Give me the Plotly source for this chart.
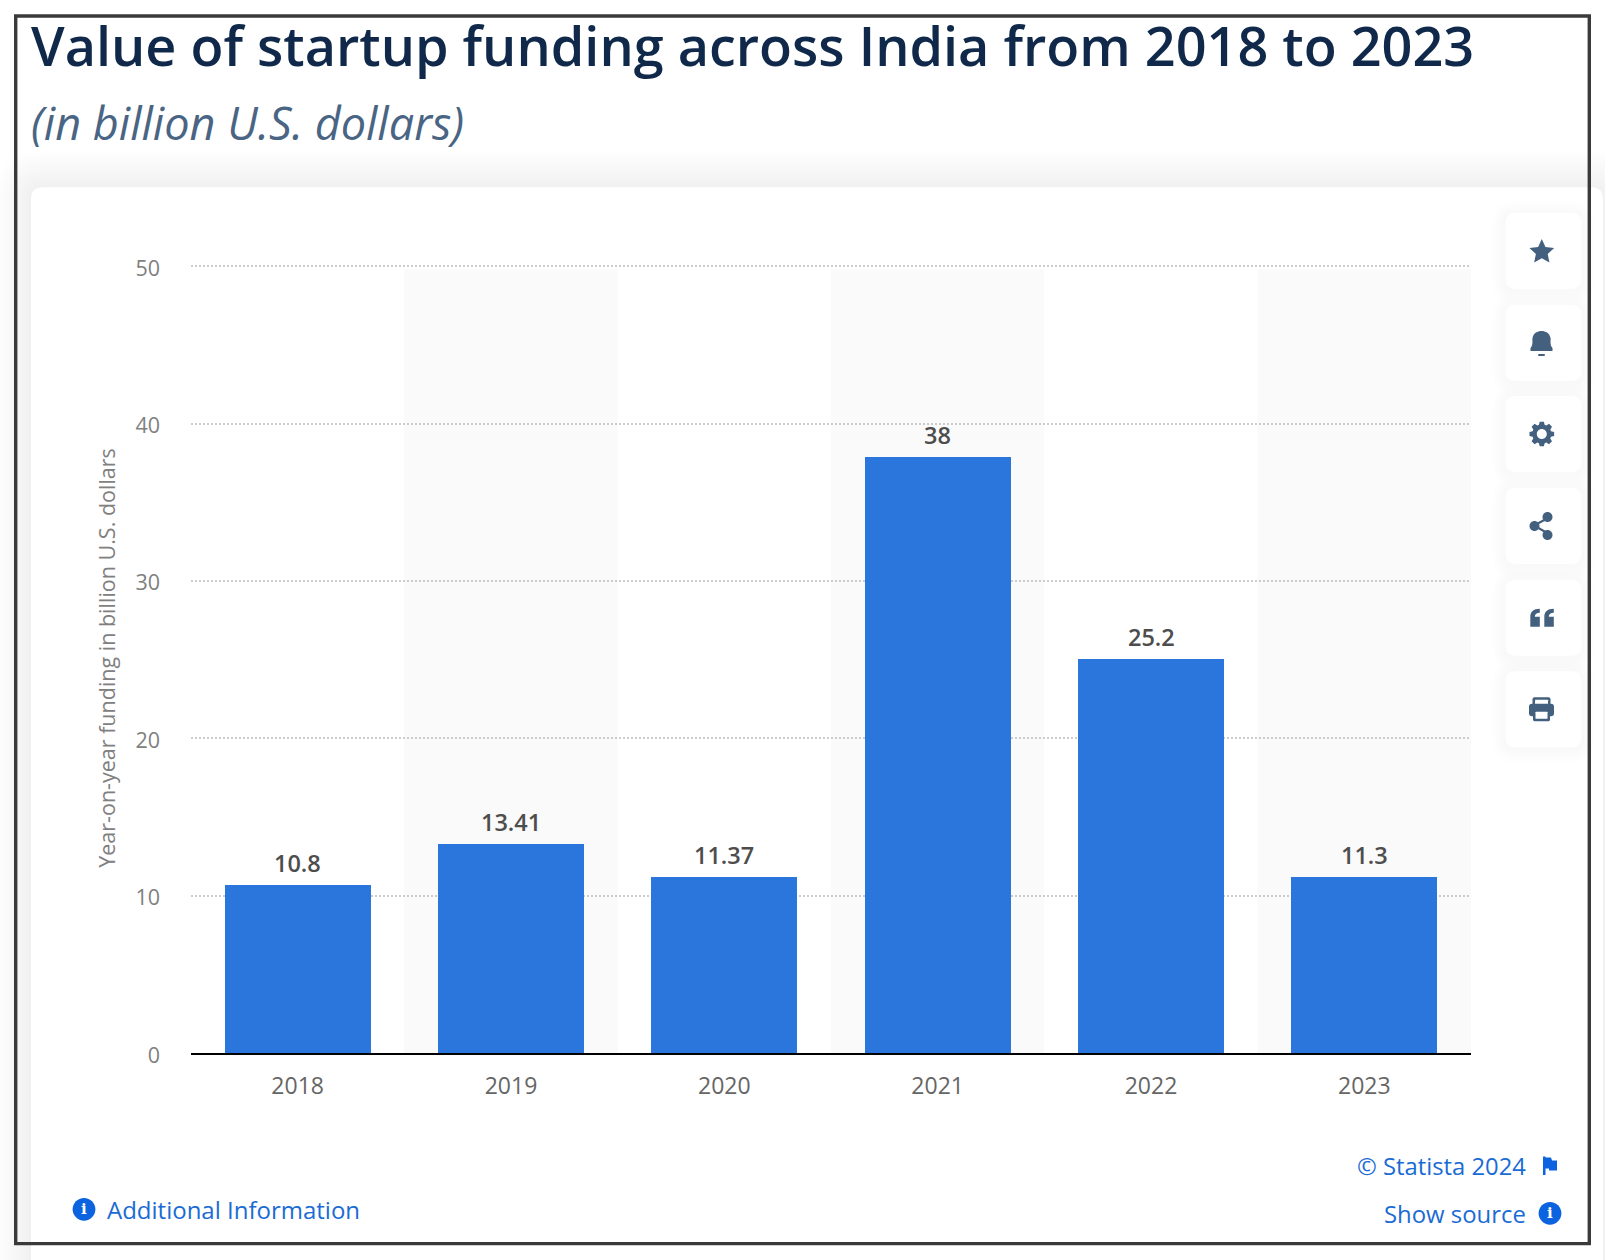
import math
import plotly.graph_objects as go

# ---- data ----
years = ["2018", "2019", "2020", "2021", "2022", "2023"]
bar_heights = [10.7, 13.28, 11.2, 37.9, 25.05, 11.2]
value_labels = ["10.8", "13.41", "11.37", "38", "25.2", "11.3"]
y_ticks = [0, 10, 20, 30, 40, 50]
shaded_years = ["2019", "2021", "2023"]

TITLE = "Value of startup funding across India from 2018 to 2023"
SUBTITLE = "(in billion U.S. dollars)"
Y_TITLE = "Year-on-year funding in billion U.S. dollars"

W, H = 1605, 1260
L, R, T, B = 191, 1471, 262.85, 1053.5
FONT = "Open Sans"
BLUE = "#2b76dd"
LINK = "#1a6bd4"
ICON = "#43607f"
SOLID = "#0b63e0"


def fx(x):
    return (x - L) / (R - L)


def fy(y):
    return (B - y) / (B - T)


def pt(x, y):
    return f"{fx(x):.5f},{fy(y):.5f}"


def poly(points):
    return "M" + " L".join(pt(x, y) for x, y in points) + " Z"


def circle(cx, cy, r):
    k = 0.5523 * r
    return (f"M{pt(cx + r, cy)} C{pt(cx + r, cy + k)} {pt(cx + k, cy + r)} {pt(cx, cy + r)} "
            f"C{pt(cx - k, cy + r)} {pt(cx - r, cy + k)} {pt(cx - r, cy)} "
            f"C{pt(cx - r, cy - k)} {pt(cx - k, cy - r)} {pt(cx, cy - r)} "
            f"C{pt(cx + k, cy - r)} {pt(cx + r, cy - k)} {pt(cx + r, cy)} Z")


def rrect(x0, y0, x1, y1, r):
    return (f"M{pt(x0 + r, y0)} L{pt(x1 - r, y0)} Q{pt(x1, y0)} {pt(x1, y0 + r)} "
            f"L{pt(x1, y1 - r)} Q{pt(x1, y1)} {pt(x1 - r, y1)} "
            f"L{pt(x0 + r, y1)} Q{pt(x0, y1)} {pt(x0, y1 - r)} "
            f"L{pt(x0, y0 + r)} Q{pt(x0, y0)} {pt(x0 + r, y0)} Z")


shapes = []


def add(path, fill, line=None, lw=0, layer="below"):
    shapes.append(dict(type="path", xref="paper", yref="paper", path=path, fillcolor=fill,
                       line=dict(color=line or "rgba(0,0,0,0)", width=lw), layer=layer))


# page-level card with soft shadow
for i in range(14, 0, -1):
    e = i * 2.6
    add(rrect(31 - e, 187 - e, 1603 + e, 1340 + e, 12 + e), "rgba(70,85,120,0.0034)")
add(rrect(31, 187, 1603, 1340, 12), "#ffffff")

# alternating bands
for yr in shaded_years:
    i = years.index(yr)
    shapes.append(dict(type="rect", xref="x", yref="y", x0=i - 0.5, x1=i + 0.5, y0=0, y1=49.8,
                       fillcolor="#fafafa", line=dict(width=0), layer="below"))

# side buttons
BTN_Y = [250.8, 343, 434, 526, 618, 709.5]
CX = 1543.5
for cy in BTN_Y:
    for i in range(6, 0, -1):
        e = i * 2.2
        add(rrect(CX - 38 - e, cy - 38 - e + 2, CX + 38 + e, cy + 38 + e + 2, 10 + e), "rgba(70,85,120,0.007)")
    add(rrect(CX - 38, cy - 38, CX + 38, cy + 38, 10), "#ffffff")

# star
cx, cy = 1541.8, BTN_Y[0]
star = []
for k in range(10):
    rad = 13 if k % 2 == 0 else 6.2
    a = -math.pi / 2 + k * math.pi / 5
    star.append((cx + rad * math.cos(a), cy + 1 + rad * math.sin(a)))
add(poly(star), ICON)

# bell
cx, cy = 1541.5, BTN_Y[1]
add(f"M{pt(cx - 11, cy + 5)} C{pt(cx - 8, cy + 2)} {pt(cx - 9.5, cy - 3)} {pt(cx - 9, cy - 5)} "
    f"C{pt(cx - 8, cy - 10)} {pt(cx - 4, cy - 12)} {pt(cx, cy - 12)} "
    f"C{pt(cx + 4, cy - 12)} {pt(cx + 8, cy - 10)} {pt(cx + 9, cy - 5)} "
    f"C{pt(cx + 9.5, cy - 3)} {pt(cx + 8, cy + 2)} {pt(cx + 11, cy + 5)} "
    f"L{pt(cx + 11, cy + 8)} L{pt(cx - 11, cy + 8)} Z", ICON)
add(rrect(cx - 3.5, cy + 11, cx + 3.5, cy + 13, 1), ICON)

# gear
cx, cy = 1541.8, BTN_Y[2]
gear = []
for k in range(8):
    a = k * math.pi / 4 - math.pi / 2
    for da, rad in ((-0.30, 9.6), (-0.17, 12.5), (0.17, 12.5), (0.30, 9.6)):
        gear.append((cx + rad * math.cos(a + da), cy + rad * math.sin(a + da)))
add(poly(gear) + " " + circle(cx, cy, 5), ICON)

# share
cx, cy = 1541.5, BTN_Y[3]
add(poly([(cx - 8, cy - 1.5), (cx + 7, cy - 9.5), (cx + 8, cy - 7.5), (cx - 7, cy + 0.5)]), ICON)
add(poly([(cx - 8, cy + 0.5), (cx + 7, cy + 9), (cx + 8, cy + 7), (cx - 7, cy - 1.5)]), ICON)
add(circle(cx - 7, cy, 5), ICON)
add(circle(cx + 6, cy - 9, 5), ICON)
add(circle(cx + 6, cy + 9, 5), ICON)

# quote marks
cx, cy = 1541.8, BTN_Y[4]
for dx in (-11.5, 2.5):
    x = cx + dx
    add(f"M{pt(x, cy + 9)} L{pt(x, cy - 1)} C{pt(x, cy - 6)} {pt(x + 3, cy - 9)} {pt(x + 9.5, cy - 9)} "
        f"L{pt(x + 9.5, cy - 5)} C{pt(x + 6.5, cy - 5)} {pt(x + 4.5, cy - 3.5)} {pt(x + 4.5, cy - 1)} "
        f"L{pt(x + 9.5, cy - 1)} L{pt(x + 9.5, cy + 9)} Z", ICON)

# printer
cx, cy = 1541.5, BTN_Y[5]
add(rrect(cx - 9, cy - 12, cx + 9, cy - 2, 2), ICON)
add(rrect(cx - 6.5, cy - 9.5, cx + 6.5, cy - 2, 0.5), "#ffffff")
add(rrect(cx - 12.5, cy - 5.5, cx + 12.5, cy + 7, 3), ICON)
add(rrect(cx - 8.5, cy + 1, cx + 8.5, cy + 12, 1.5), ICON)
add(rrect(cx - 6, cy + 2.5, cx + 6, cy + 9.5, 0.5), "#ffffff")

# info dots and flag
add(circle(84, 1210, 11.4), SOLID)
add(circle(1550, 1214, 11.4), SOLID)
add(poly([(1543, 1157), (1545.5, 1157), (1545.5, 1158), (1551, 1158), (1552, 1161), (1557, 1161), (1557, 1171),
          (1549, 1171), (1549, 1169), (1545.5, 1169), (1545.5, 1175.5), (1543, 1175.5)]), SOLID)

# frame around the picture
add(f"M{pt(15.7, 15.7)} L{pt(1589.3, 15.7)} L{pt(1589.3, 1244.3)} L{pt(15.7, 1244.3)} Z",
    "rgba(0,0,0,0)", "#3a3a3a", 3.4)

annotations = []


def label(text, x, y, size, color, xanchor="left", weight=400, style="normal", family=FONT):
    annotations.append(dict(text=text, xref="paper", yref="paper", x=fx(x), y=fy(y), xanchor=xanchor,
                            yanchor="middle", showarrow=False, align=xanchor,
                            font=dict(family=family, size=size, color=color, weight=weight, style=style),
                            borderpad=0, borderwidth=0))


label(TITLE, 30.7, 44.5, 54, "#10294a", weight=600)
label(SUBTITLE, 31, 122, 45, "#4a6584", weight=400, style="italic")
label("Additional Information", 106.5, 1210, 24, LINK)
label("\u00a9 Statista 2024", 1526, 1167, 23.8, LINK, xanchor="right")
label("Show source", 1526, 1214, 23.9, LINK, xanchor="right")
label("<b>i</b>", 84, 1210, 15, "#ffffff", xanchor="center", family="DejaVu Serif")
label("<b>i</b>", 1550, 1214, 15, "#ffffff", xanchor="center", family="DejaVu Serif")

for i, (h, txt) in enumerate(zip(bar_heights, value_labels)):
    annotations.append(dict(text=txt, x=i, y=h, xref="x", yref="y", xanchor="center", yanchor="bottom",
                            yshift=4, showarrow=False,
                            font=dict(family=FONT, size=23.5, color="#4d4d4d", weight=600)))

fig = go.Figure(go.Bar(x=years, y=bar_heights, width=0.685,
                       marker=dict(color=BLUE, line=dict(width=0)),
                       hoverinfo="skip"))

fig.update_layout(
    width=W, height=H, autosize=False,
    margin=dict(l=L, r=W - R, t=T, b=H - B, pad=0),
    paper_bgcolor="#ffffff", plot_bgcolor="rgba(0,0,0,0)",
    showlegend=False, shapes=shapes, annotations=annotations, bargap=0,
    font=dict(family=FONT),
    xaxis=dict(type="category", categoryorder="array", categoryarray=years, range=[-0.5, 5.5],
               showgrid=False, zeroline=False, showline=True, linecolor="#000000", linewidth=2,
               ticks="", ticklabelstandoff=11,
               tickfont=dict(family=FONT, size=23, color="#666666")),
    yaxis=dict(range=[0, 50.2], tickvals=y_ticks, showgrid=True, gridcolor="#cccccc", griddash="2px,2px",
               gridwidth=1.5, zeroline=False, showline=False, ticks="", ticklabelstandoff=30,
               ticklabelshift=2,
               tickfont=dict(family=FONT, size=21.5, color="#808080"),
               title=dict(text=Y_TITLE, standoff=13, font=dict(family=FONT, size=21.5, color="#808080"))),
)

fig.write_html("out.html", config=dict(displayModeBar=False, responsive=False),
               post_script="document.body.style.margin='0';document.documentElement.style.overflow='hidden';")
